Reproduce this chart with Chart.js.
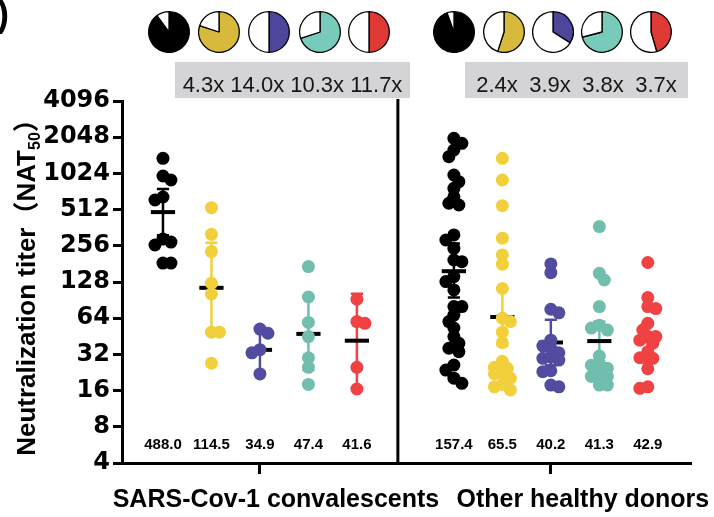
<!DOCTYPE html>
<html><head><meta charset="utf-8">
<script src="https://cdn.jsdelivr.net/npm/chart.js@4/dist/chart.umd.min.js"></script>
<style>
html,body{margin:0;padding:0;background:#fff;}
#wrap{position:relative;width:714px;height:517px;overflow:hidden;background:#fff;}
#main{position:absolute;left:0;top:0;}
.pie{position:absolute;}
</style></head><body>
<div id="wrap"><canvas id="main" width="714" height="517"></canvas></div>
<script>
// ---------------- DATA ----------------
const groupLabels = ['SARS-Cov-1 convalescents', 'Other healthy donors'];
const yTicks = [4, 8, 16, 32, 64, 128, 256, 512, 1024, 2048, 4096];

// SARS-Cov-1 convalescents (five series: black, yellow, blue, teal, red)
const sarsBlack  = [1367, 974, 902, 652, 615, 291, 275, 260, 184, 184];
const sarsYellow = [531, 319, 229, 125, 102, 49, 49, 27];
const sarsBlue   = [52, 48, 35, 33, 22];
const sarsTeal   = [172, 96, 59, 45, 30, 25, 18];
const sarsRed    = [92, 60, 58, 25, 16.5];

// Other healthy donors
const otherBlack  = [2006, 1822, 1603, 1410, 993, 874, 770, 655, 578, 559, 315, 286, 244, 195, 189,
                     142, 129, 110, 80, 80, 68, 60, 53, 45, 39.6, 36, 33.7, 26.1, 23.7, 20.3, 18.4];
const otherYellow = [1367, 902, 552, 296, 215, 180, 113, 64, 60, 49, 40, 28, 25, 24.5, 22.4, 22, 20.3, 18, 17.2, 16.2];
const otherBlue   = [181, 153, 76, 71, 42, 37.6, 36, 33, 30.3, 29.7, 28.7, 23.4, 23, 17.8, 17.2];
const otherTeal   = [370, 151, 133, 80, 56, 53, 51, 31, 26, 26, 24.5, 24, 22.3, 21, 21, 17.8, 17.8];
const otherRed    = [186, 95, 80, 77, 58, 51, 45, 45, 42, 39.6, 33.7, 30, 29.7, 28.7, 24.3, 17.2, 16.7];

// Geometric means (printed under columns) and error bar ranges
const meansSars  = [488.0, 114.5, 34.9, 47.4, 41.6];
const meansOther = [157.4, 65.5, 40.2, 41.3, 42.9];
const errLowSars   = [313, 48, 22.7, 23.7, 17];
const errHighSars  = [760, 272, 53.6, 95, 102];
const errLowOther  = [95, 38, 26, 28, 32];
const errHighOther = [268, 113, 62, 60, 58];

// Pie fractions (coloured share)
const pieSars  = [0.9, 0.8, 0.5, 0.7, 0.5];
const pieOther = [0.945, 0.55, 0.34, 0.71, 0.455];

// Fold-change labels
const foldSars  = ['4.3x', '14.0x', '10.3x', '11.7x'];
const foldOther = ['2.4x', '3.9x', '3.8x', '3.7x'];

// ---------------- STYLE ----------------
const pointColors = ['#000000', '#f2d03c', '#524ca0', '#72beae', '#f04242'];
const pieColors   = ['#000000', '#d7b93c', '#4b479b', '#78cbbb', '#df3a36'];

const seriesSars  = [sarsBlack, sarsYellow, sarsBlue, sarsTeal, sarsRed];
const seriesOther = [otherBlack, otherYellow, otherBlue, otherTeal, otherRed];
const allSeries = seriesSars.concat(seriesOther);
const allMeans = meansSars.concat(meansOther);
const allLow = errLowSars.concat(errLowOther);
const allHigh = errHighSars.concat(errHighOther);
const colIndex = [0, 1, 2, 3, 4, 6, 7, 8, 9, 10];

// chart geometry
const AREA = {left: 122, right: 690, top: 101, bottom: 463};
const XMIN = -0.845, XMAX = 10.87;
const pxPerX = (AREA.right - AREA.left) / (XMAX - XMIN);
const pxPerOct = (AREA.bottom - AREA.top) / Math.log2(4096 / 4);

// deterministic compact beeswarm offsets (collision based, narrow column)
function swarm(values) {
  const order = values.map((v, i) => i).sort((a, b) => values[b] - values[a]);
  const placed = [];
  const off = new Array(values.length).fill(0);
  const cands = [0, 5, -5, 8, -8];
  let flip = 1;
  for (const i of order) {
    const py = Math.log2(values[i]) * pxPerOct;
    let chosen = null, best = -1, bestC = 0;
    for (const c0 of cands) {
      const c = c0 * flip;
      const md = placed.length ? Math.min(...placed.map(p => Math.hypot(p.x - c, p.y - py))) : 99;
      if (md >= 8) { chosen = c; break; }
      if (md > best) { best = md; bestC = c; }
    }
    if (chosen === null) chosen = bestC;
    if (chosen !== 0) flip = -flip;
    placed.push({x: chosen, y: py});
    off[i] = chosen / pxPerX;
  }
  return off;
}

const datasets = allSeries.map((vals, k) => {
  const off = swarm(vals);
  return {
    data: vals.map((v, i) => ({x: colIndex[k] + off[i], y: v})),
    backgroundColor: pointColors[k % 5],
    borderWidth: 0,
    pointRadius: 6.5,
    pointHoverRadius: 6.5,
    showLine: false
  };
});

const FONT = 'Liberation Sans, Arial, Helvetica, sans-serif';

const decor = {
  id: 'decor',
  beforeDatasetsDraw(chart) {
    const ctx = chart.ctx, x = chart.scales.x, y = chart.scales.y;
    ctx.save();
    colIndex.forEach((c, k) => {
      const col = k % 5 === 0 ? '#000' : pointColors[k % 5];
      const xc = x.getPixelForValue(c);
      const yl = y.getPixelForValue(allLow[k]);
      const yh = y.getPixelForValue(allHigh[k]);
      ctx.strokeStyle = col; ctx.lineWidth = 2.5;
      ctx.beginPath();
      ctx.moveTo(xc, yl); ctx.lineTo(xc, yh);
      const cl = x.getPixelForValue(c - 0.125), cr = x.getPixelForValue(c + 0.125);
      ctx.moveTo(cl, yl); ctx.lineTo(cr, yl);
      ctx.moveTo(cl, yh); ctx.lineTo(cr, yh);
      ctx.stroke();
      const ym = y.getPixelForValue(allMeans[k]);
      ctx.strokeStyle = '#000'; ctx.lineWidth = 4;
      ctx.beginPath();
      ctx.moveTo(x.getPixelForValue(c - 0.25), ym);
      ctx.lineTo(x.getPixelForValue(c + 0.25), ym);
      ctx.stroke();
    });
    ctx.restore();
  },
  afterDraw(chart) {
    const ctx = chart.ctx, x = chart.scales.x, y = chart.scales.y;
    ctx.save();
    // divider between groups
    ctx.strokeStyle = '#000'; ctx.lineWidth = 3;
    ctx.beginPath();
    const xd = x.getPixelForValue(4.845);
    ctx.moveTo(xd, 99); ctx.lineTo(xd, y.getPixelForValue(4));
    ctx.stroke();
    // mean labels
    ctx.fillStyle = '#000';
    ctx.font = 'bold 15px ' + FONT;
    ctx.textAlign = 'center'; ctx.textBaseline = 'alphabetic';
    colIndex.forEach((c, k) => {
      ctx.fillText(allMeans[k].toFixed(1), x.getPixelForValue(c), 449);
    });
    // category labels
    ctx.font = 'bold 25px ' + FONT;
    ctx.fillText(groupLabels[0], x.getPixelForValue(2) + 16, 507);
    ctx.fillText(groupLabels[1], x.getPixelForValue(8) + 32, 507);
    // fold-change boxes
    ctx.fillStyle = '#d4d4d6';
    ctx.fillRect(175, 62, 235, 36);
    ctx.fillRect(465, 62, 223, 36);
    ctx.fillStyle = '#151515';
    ctx.font = '22px ' + FONT;
    ctx.fillText(foldSars.join(' '), 292.5, 92);
    const fr = [497, 550, 603, 656];
    foldOther.forEach((t, i) => ctx.fillText(t, fr[i], 92));
    // y title
    ctx.fillStyle = '#000';
    ctx.translate(35, 281);
    ctx.rotate(-Math.PI / 2);
    ctx.textAlign = 'left';
    const big = 'bold 26px ' + FONT;
    const cjk = 'bold 26px "Noto Sans CJK SC", sans-serif';
    const sub = 'bold 16px ' + FONT;
    const parts = [
      ['Neutralization titer', big, 0], ['（', cjk, 0], ['NAT', big, 0], ['50', sub, 5], ['）', cjk, 0]
    ];
    let total = 0;
    parts.forEach(p => { ctx.font = p[1]; p.w = ctx.measureText(p[0]).width; total += p.w; });
    let cx = -total / 2;
    parts.forEach(p => { ctx.font = p[1]; ctx.fillText(p[0], cx, p[2]); cx += p.w; });
    ctx.restore();
    // panel letter remnant
    ctx.save();
    ctx.fillStyle = '#000';
    ctx.font = 'bold 36px ' + FONT;
    ctx.textAlign = 'left';
    ctx.fillText(')', -3, 26);
    ctx.restore();
  }
};

new Chart(document.getElementById('main'), {
  type: 'scatter',
  data: {datasets},
  options: {
    responsive: false,
    animation: false,
    devicePixelRatio: 1,
    layout: {padding: {left: 0, right: 714 - AREA.right, top: AREA.top, bottom: 0}},
    plugins: {legend: {display: false}, tooltip: {enabled: false}},
    scales: {
      x: {
        type: 'linear', min: XMIN, max: XMAX,
        afterBuildTicks: s => { s.ticks = [{value: 2}, {value: 8}]; },
        afterFit: s => { s.height = 517 - AREA.bottom; },
        ticks: {display: false},
        grid: {drawOnChartArea: false, drawTicks: true, tickLength: 11, lineWidth: 3, color: '#000'},
        border: {display: true, width: 3, color: '#000'}
      },
      y: {
        type: 'logarithmic', min: 4, max: 4096,
        afterBuildTicks: s => { s.ticks = yTicks.map(v => ({value: v})); },
        afterFit: s => { s.width = AREA.left; },
        ticks: {
          callback: v => String(v), color: '#000', padding: 3,
          font: {family: 'DejaVu Sans', weight: 'bold', size: 24}
        },
        grid: {drawOnChartArea: false, drawTicks: true, tickLength: 9, lineWidth: 3, color: '#000'},
        border: {display: true, width: 3, color: '#000'}
      }
    }
  },
  plugins: [decor]
});

// pies above columns
const pieCenters = [169, 219, 269, 320, 369, 454, 504, 553, 602, 651];
const pieFracs = pieSars.concat(pieOther);
const wrap = document.getElementById('wrap');
pieFracs.forEach((f, k) => {
  const c = document.createElement('canvas');
  c.width = 42; c.height = 42; c.className = 'pie';
  c.style.left = (pieCenters[k] - 21) + 'px';
  c.style.top = (32 - 21) + 'px';
  wrap.appendChild(c);
  new Chart(c, {
    type: 'pie',
    data: {datasets: [{data: [f, 1 - f], backgroundColor: [pieColors[k % 5], '#ffffff'],
      borderColor: '#000', borderWidth: 1.3}]},
    options: {responsive: false, animation: false, devicePixelRatio: 1,
      layout: {padding: 0},
      plugins: {legend: {display: false}, tooltip: {enabled: false}}}
  });
});
</script>
</body></html>
